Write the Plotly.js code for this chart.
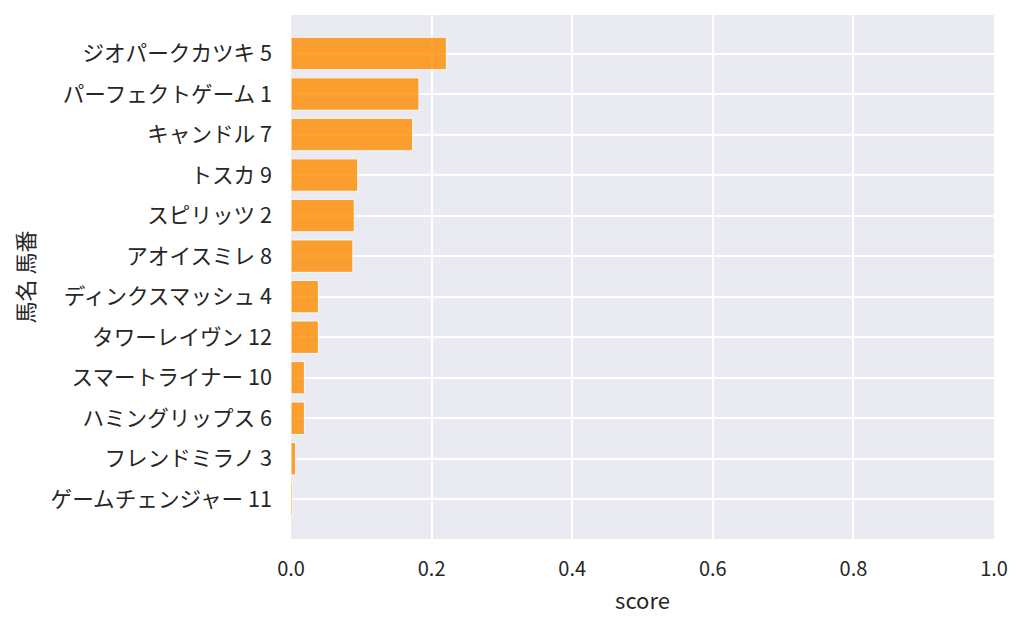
<!DOCTYPE html>
<html>
<head>
<meta charset="utf-8">
<script src="https://cdn.plot.ly/plotly-3.0.1.min.js"></script>
<style>
  html, body { margin: 0; padding: 0; background: #fff; }
  #chart { width: 1024px; height: 627px; }
</style>
</head>
<body>
<div id="chart"></div>
<script>
/* ── horse score bar chart ── */

// top to bottom, as drawn
const horseNames = [
  "ジオパークカツキ 5", "パーフェクトゲーム 1", "キャンドル 7", "トスカ 9",
  "スピリッツ 2", "アオイスミレ 8", "ディンクスマッシュ 4", "タワーレイヴン 12",
  "スマートライナー 10", "ハミングリップス 6", "フレンドミラノ 3", "ゲームチェンジャー 11",
];
const scores = [
  0.221, 0.182, 0.173, 0.095,
  0.090, 0.088, 0.039, 0.039,
  0.019, 0.019, 0.0066, 0.0023,
];
const xTicks = [0, 0.2, 0.4, 0.6, 0.8, 1.0];

const FONT = "'Noto Sans CJK JP', 'Noto Sans', sans-serif";
const TEXT_COLOR = "#262626";

const bars = {
  type: "bar",
  orientation: "h",
  x: scores,
  y: horseNames,
  width: 0.8,
  marker: {
    color: "#ff8c00",
    opacity: 0.8,
    line: { color: "#ffffff", width: 1 },
  },
  hoverinfo: "x+y",
  showlegend: false,
};

const layout = {
  width: 1024,
  height: 627,
  paper_bgcolor: "#ffffff",
  plot_bgcolor: "#eaeaf2",
  font: { family: FONT, color: TEXT_COLOR, size: 20 },
  margin: { l: 291, r: 30, t: 15, b: 88 },
  bargap: 0.2,
  xaxis: {
    range: [0, 1.0],
    tickvals: xTicks,
    tickformat: ".1f",
    showgrid: true,
    gridcolor: "#ffffff",
    gridwidth: 1.6,
    zeroline: false,
    showline: false,
    ticks: "",
    ticklabelstandoff: 16,
    tickfont: { size: 20, color: TEXT_COLOR },
    title: { text: "score", font: { size: 22, color: TEXT_COLOR }, standoff: 12 },
  },
  yaxis: {
    type: "category",
    categoryorder: "array",
    categoryarray: horseNames,
    range: [11.98, -0.95],
    showgrid: true,
    gridcolor: "#ffffff",
    gridwidth: 1.6,
    zeroline: false,
    showline: false,
    ticks: "",
    ticklabelstandoff: 18,
    tickfont: { size: 21.6, color: TEXT_COLOR },
    title: { text: "馬名 馬番", font: { size: 22, color: TEXT_COLOR }, standoff: 9 },
  },
};

Plotly.newPlot("chart", [bars], layout, { displayModeBar: false, responsive: false });
</script>
</body>
</html>
